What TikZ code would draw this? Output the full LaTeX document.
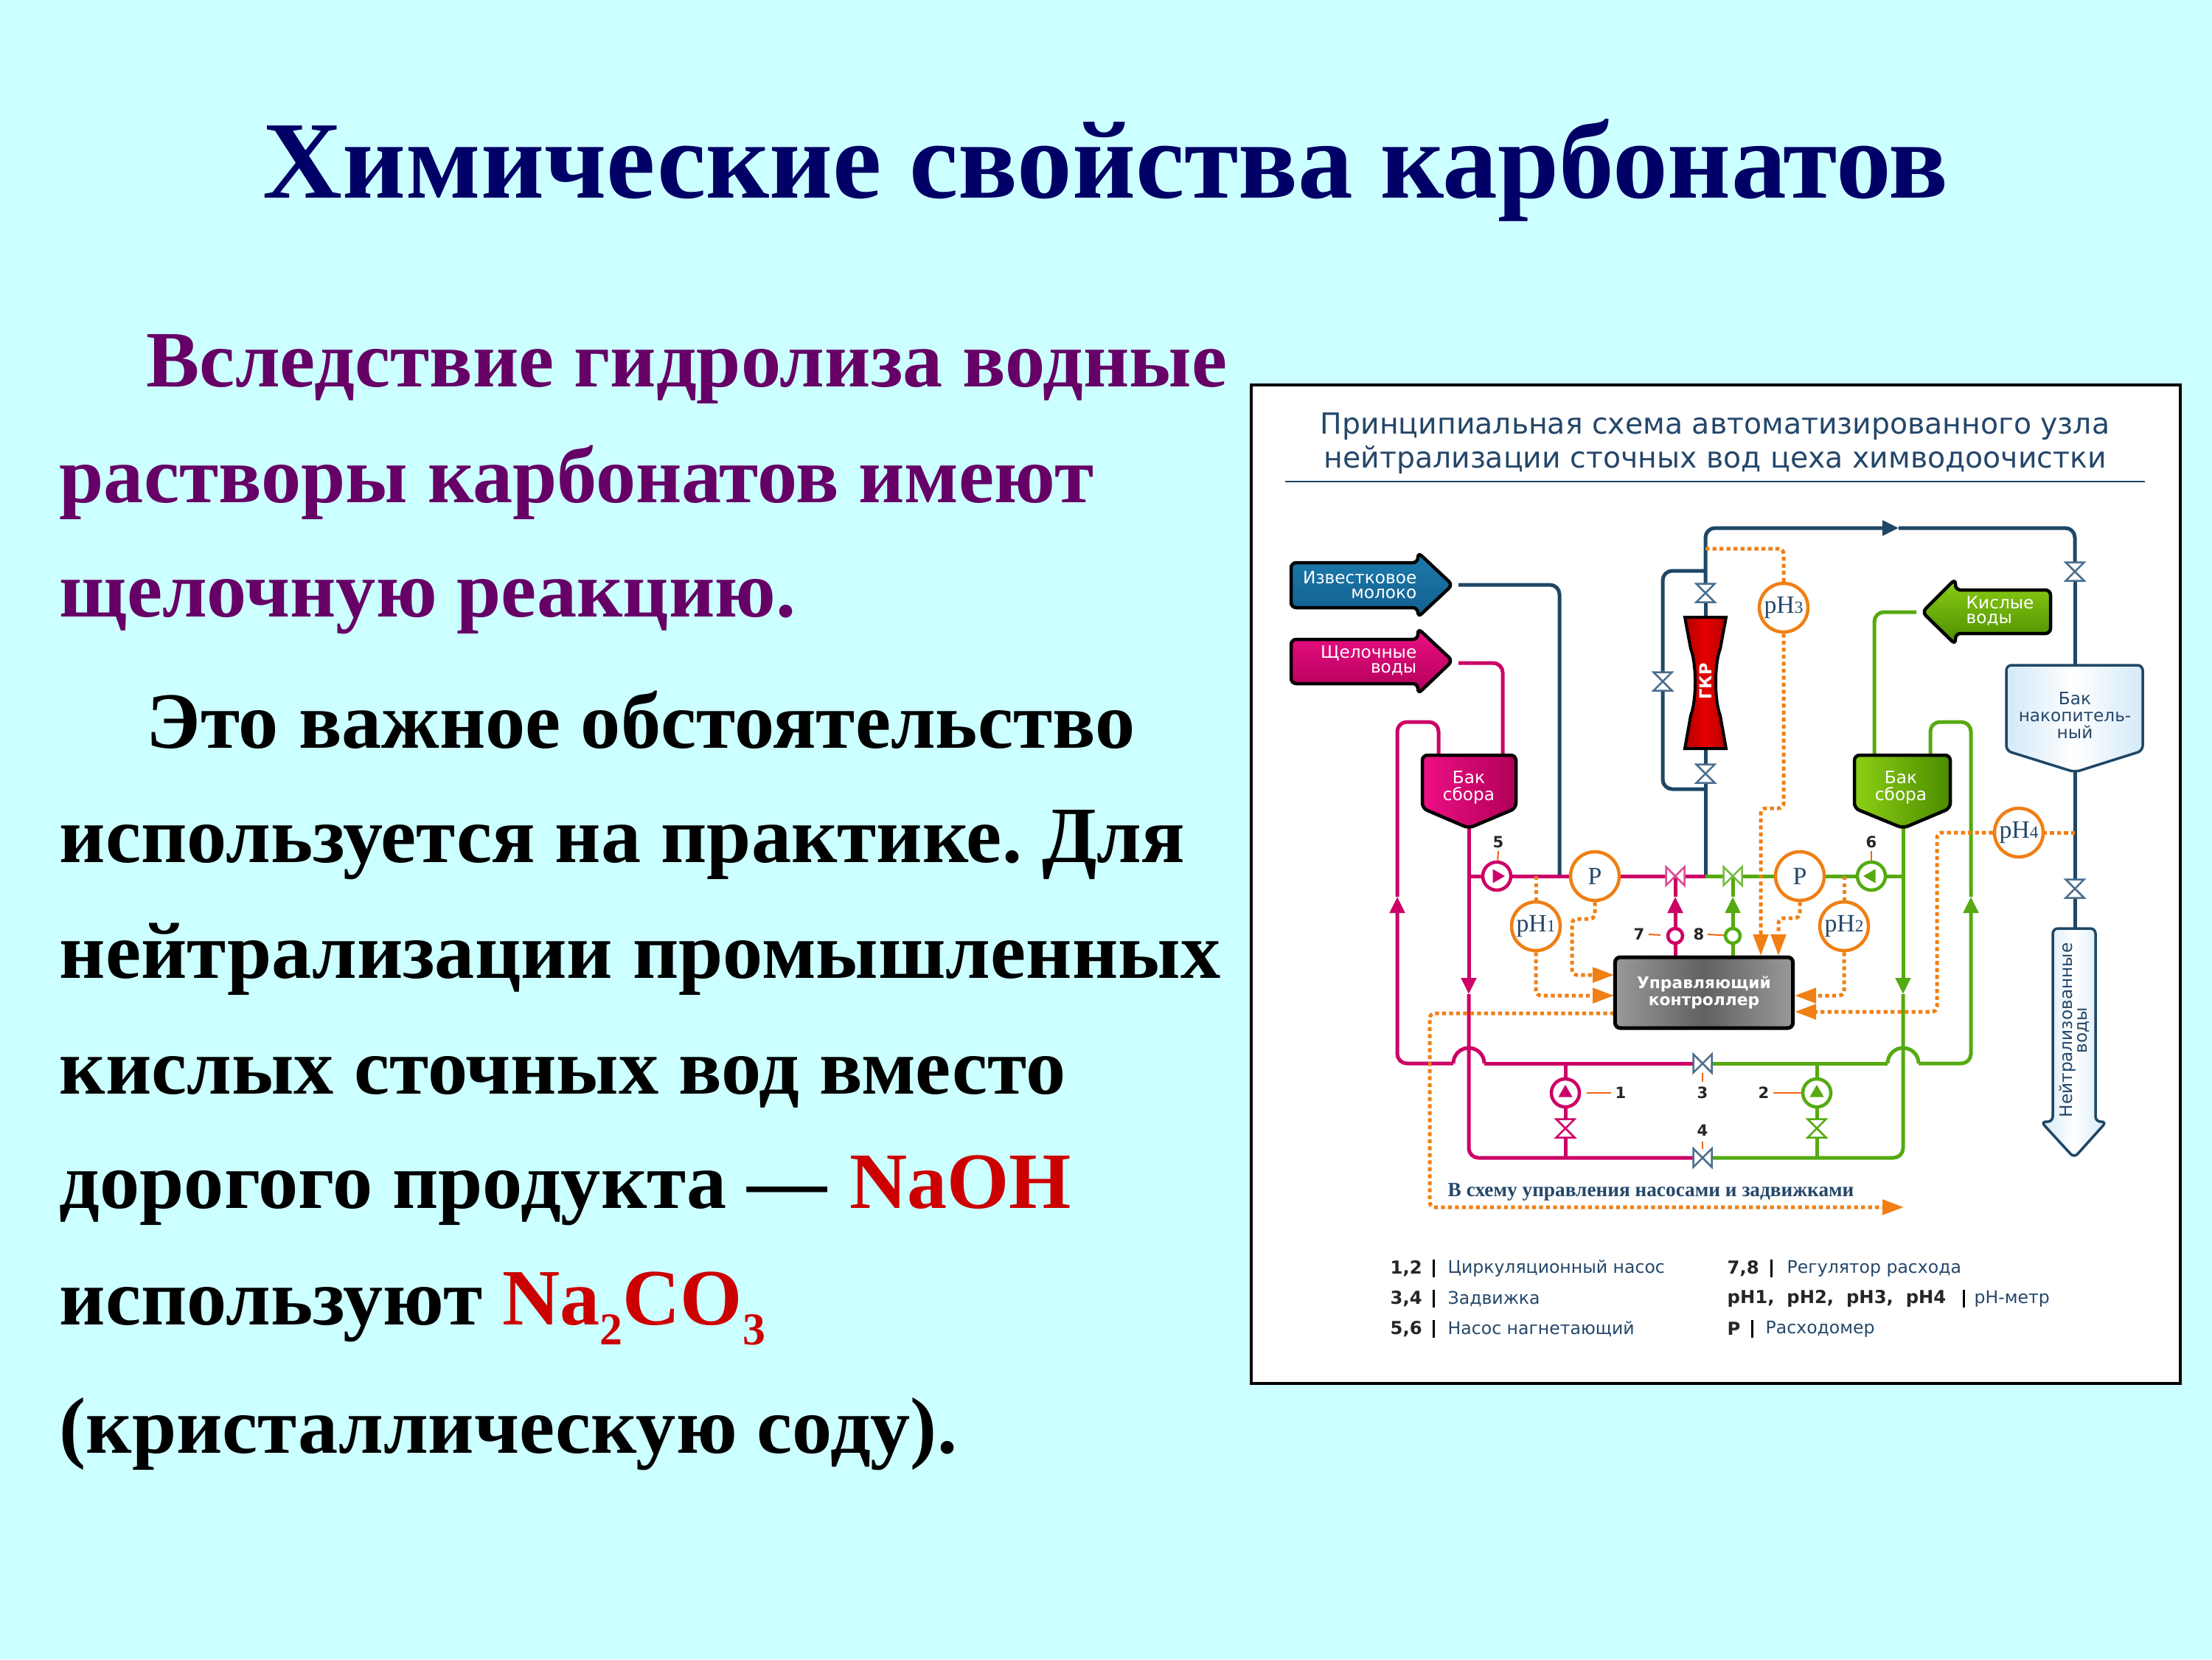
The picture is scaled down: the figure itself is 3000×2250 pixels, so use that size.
\documentclass[tikz,border=0pt]{standalone}
\usepackage{fontspec}
\setmainfont{Liberation Serif}
\newfontfamily\schemefont{DejaVu Sans}
\usetikzlibrary{arrows.meta,backgrounds,shapes.geometric}
\frenchspacing
\definecolor{slide area}{HTML}{CCFFFF}
\definecolor{title ink}{HTML}{000066}
\definecolor{purple ink}{HTML}{660066}
\definecolor{salt ink}{HTML}{CC0000}
\definecolor{scheme ink}{HTML}{24476A}
\definecolor{pipe blue}{HTML}{1F4766}
\definecolor{pipe pink}{HTML}{CC0066}
\definecolor{pipe lime}{HTML}{55AA11}
\definecolor{sensor orange}{HTML}{F07F14}
\definecolor{valve steel}{HTML}{4A6E8E}
\definecolor{milk top}{HTML}{1C7BAE}
\definecolor{milk low}{HTML}{125F8E}
\definecolor{pink light}{HTML}{EE0F85}
\definecolor{pink dark}{HTML}{B00058}
\definecolor{lime light}{HTML}{8CCF14}
\definecolor{lime dark}{HTML}{4B8C00}
\definecolor{pale area}{HTML}{D3E9F7}
\definecolor{red light}{HTML}{E60000}
\definecolor{red dark}{HTML}{B40000}
\tikzset{
    mid tip/.tip={Triangle[length=0.22cm,width=0.2cm]},
    sensor tip/.tip={Triangle[length=0.29cm,width=0.2cm]},
    body line/.style={anchor=base west,inner sep=0pt,font=\fontsize{30.8}{33}\bfseries},
    pipe/.style={line width=0.05cm,rounded corners=0.13cm},
    sensor/.style={line width=0.05cm,draw=sensor orange,dash pattern=on 1.5pt off 1.2pt,rounded corners=0.07cm,-sensor tip},
    sensor plain/.style={sensor,-},
    meter/.style={circle,draw=sensor orange,fill=white,line width=0.045cm,minimum size=0.66cm,inner sep=0pt,text=scheme ink,font=\fontsize{9.6}{10}\selectfont},
    valve box/.style={minimum size=0.25cm,inner sep=0pt,outer sep=0pt},
    valve line/.style={line width=0.025cm,fill=white},
    pump/.style={circle,fill=white,line width=0.045cm,minimum size=0.38cm,inner sep=0pt},
    pump mark/.style={regular polygon,regular polygon sides=3,inner sep=0pt,minimum size=0.22cm},
    regulator/.style={circle,fill=white,line width=0.045cm,minimum size=0.2cm,inner sep=0pt},
    num/.style={inner sep=0pt,font=\schemefont\fontsize{6}{6}\bfseries,text=black!85},
    tick/.style={line width=0.02cm,draw=sensor orange!80!red},
    tag/.style={inner sep=0pt,align=center,font=\schemefont\fontsize{6.6}{5.7}\selectfont},
    tall tag/.style={tag,font=\schemefont\fontsize{6.6}{6.5}\selectfont},
    shape line/.style={draw=black,line width=0.045cm,rounded corners=0.07cm},
    pale line/.style={draw=pipe blue,line width=0.035cm,rounded corners=0.07cm,left color=pale area,right color=pale area,middle color=white},
    legend key/.style={anchor=west,inner sep=0pt,text=black!85,font=\schemefont\fontsize{6.9}{7}\bfseries},
    legend text/.style={anchor=west,inner sep=0pt,text=scheme ink,font=\schemefont\fontsize{6.7}{7}\selectfont},
    legend bar/.style={line width=0.03cm,draw=black}
}
\newcommand{\valveH}[3]{\node[valve box] (#1) at (#2) {};
    \draw[valve line,draw=#3] (#1.north west) -- (#1.south east) -- (#1.north east) -- (#1.south west) -- cycle;}
\newcommand{\valveV}[3]{\node[valve box] (#1) at (#2) {};
    \draw[valve line,draw=#3] (#1.north west) -- (#1.north east) -- (#1.south west) -- (#1.south east) -- cycle;}
\newcommand{\pumpAt}[4]{\node[pump,draw=#3] (#1) at (#2) {};
    \node[pump mark,fill=#3,regular polygon rotate=#4] (#1 mark) at (#2) {};}
\newcommand{\pHtag}[1]{pH{\fontsize{6.6}{7}\selectfont #1}}
\newcommand{\lowIdx}[1]{\raisebox{-7.7pt}{\fontsize{17.6}{18}\selectfont #1}}
\def\tankL{(1929,1024) -- (2056,1024) -- (2056,1096) -- (1992,1123) -- (1929,1096) -- cycle}
\def\tankR{(2515,1024) -- (2645,1024) -- (2645,1096) -- (2581,1123) -- (2515,1096) -- cycle}
\def\tankStore{(2721,902) -- (2906,902) -- (2906,1018) -- (2814,1047) -- (2721,1018) -- cycle}
\def\arrowMilk{(1751,763) -- (1923,763) -- (1923,749) -- (1970,793) -- (1923,837) -- (1923,824) -- (1751,824) -- cycle}
\def\arrowAlkali{(1751,867) -- (1923,867) -- (1923,852) -- (1970,896) -- (1923,941) -- (1923,927) -- (1751,927) -- cycle}
\def\arrowAcid{(2781,800) -- (2652,800) -- (2652,785) -- (2607,830) -- (2652,874) -- (2652,859) -- (2781,859) -- cycle}
\def\arrowOut{(2784,1259) -- (2842,1259) -- (2842,1521) -- (2857,1521) -- (2813,1570) -- (2768,1521) -- (2784,1521) -- cycle}
\def\hourGlass{(2285,837) -- (2341,837) -- (2333,880) .. controls (2325,900) and (2325,950) .. (2333,970) -- (2341,1015) -- (2285,1015) -- (2293,970) .. controls (2301,950) and (2301,900) .. (2293,880) -- cycle}

\begin{document}
\begin{tikzpicture}[x=0.01cm,y=-0.01cm]
    \useasboundingbox (0,0) rectangle (3000,2250);
    \begin{scope}[on background layer]
        \fill[slide area] (0,0) rectangle (3000,2250);
        \draw[fill=white,line width=0.035cm] (1697,522) rectangle (2957,1876);
    \end{scope}

    \node[anchor=base west,inner sep=0pt,text=title ink,font=\fontsize{42.5}{45}\bfseries] (slideTitle) at (356,268) {Химические свойства карбонатов};
    \node[body line,text=purple ink] (lineA) at (198,524) {Вследствие гидролиза водные};
    \node[body line,text=purple ink] (lineB) at (80,681) {растворы карбонатов имеют};
    \node[body line,text=purple ink] (lineC) at (80,836) {щелочную реакцию.};
    \node[body line] (lineD) at (198,1014) {Это важное обстоятельство};
    \node[body line] (lineE) at (80,1169) {используется на практике. Для};
    \node[body line] (lineF) at (80,1326) {нейтрализации промышленных};
    \node[body line] (lineG) at (80,1483) {кислых сточных вод вместо};
    \node[body line] (lineH) at (80,1638) {дорогого продукта —\kern1pt\ {\color{salt ink}NaOH}};
    \node[body line] (lineI) at (80,1796) {используют {\color{salt ink}Na\lowIdx{2}CO\lowIdx{3}}};
    \node[body line] (lineJ) at (80,1970) {(кристаллическую соду).};

    \node[inner sep=0pt,align=center,text=scheme ink,font=\schemefont\fontsize{11.2}{13}\selectfont] (schemeTitle) at (2326,601) {Принципиальная схема автоматизированного узла\\нейтрализации сточных вод цеха химводоочистки};
    \coordinate (ruleL) at (1743,653);
    \coordinate (ruleR) at (2909,653);
    \draw[pipe blue,line width=0.025cm] (ruleL) -- (ruleR);

    \coordinate (milkOut) at (1978,793);
    \coordinate (alkaliOut) at (1978,899);
    \coordinate (acidOut) at (2599,830);
    \coordinate (tankLa) at (1951,1024);
    \coordinate (tankLb) at (2038,1024);
    \coordinate (tankLtip) at (1992,1123);
    \coordinate (tankRa) at (2542,1024);
    \coordinate (tankRb) at (2618,1024);
    \coordinate (tankRtip) at (2581,1123);
    \coordinate (storeIn) at (2814,902);
    \coordinate (storeTip) at (2814,1047);
    \coordinate (outIn) at (2814,1259);
    \coordinate (blueTee) at (2115,1188);
    \coordinate (midTee) at (2313,1188);
    \coordinate (teeL) at (1992,1188);
    \coordinate (teeR) at (2581,1188);
    \coordinate (bypassHigh) at (2313,774);
    \coordinate (bypassLow) at (2313,1070);
    \coordinate (topFlow) at (2575,716);
    \coordinate (downL) at (1992,1348);
    \coordinate (downR) at (2581,1348);
    \coordinate (upL) at (1895,1216);
    \coordinate (upR) at (2673,1216);
    \coordinate (loopL) at (1951,979);
    \coordinate (loopR) at (2618,979);
    \coordinate (jumpLa) at (1971,1442);
    \coordinate (jumpLb) at (2013,1442);
    \coordinate (jumpRa) at (2560,1442);
    \coordinate (jumpRb) at (2602,1442);
    \coordinate (teeA) at (2123,1442);
    \coordinate (teeB) at (2464,1442);
    \coordinate (teeC) at (2123,1570);
    \coordinate (teeD) at (2464,1570);
    \coordinate (tapL) at (2083,1188);
    \coordinate (tapR) at (2501,1188);
    \coordinate (tapTop) at (2313,744);
    \coordinate (tapOut) at (2814,1129);
    \coordinate (jogA) at (2132,1246);
    \coordinate (jogB) at (2412,1245);
    \coordinate (jogC) at (2388,1096);
    \coordinate (jogD) at (2627,1129);
    \coordinate (jogE) at (1939,1374);
    \coordinate (ctrlA) at (2189,1350);
    \coordinate (ctrlB) at (2189,1322);
    \coordinate (ctrlC) at (2412,1296);
    \coordinate (ctrlD) at (2388,1296);
    \coordinate (ctrlE) at (2434,1350);
    \coordinate (ctrlF) at (2434,1372);
    \coordinate (ctrlG) at (2189,1374);
    \coordinate (outEnd) at (2582,1637);
    \coordinate (stemA) at (2272,1296);
    \coordinate (stemB) at (2350,1296);
    \coordinate (stemTipA) at (2272,1216);
    \coordinate (stemTipB) at (2350,1216);

    \shade[shape line,top color=milk top,bottom color=milk low] \arrowMilk;
    \shade[shape line,top color=pink light,bottom color=pink dark] \arrowAlkali;
    \shade[shape line,top color=lime light,bottom color=lime dark] \arrowAcid;
    \shade[shape line,left color=pink light,right color=pink dark] \tankL;
    \shade[shape line,left color=lime light,right color=lime dark] \tankR;
    \shade[pale line] \tankStore;
    \shade[pale line] \arrowOut;
    \shade[draw=black,line width=0.04cm,left color=red dark,right color=red dark,middle color=red light] \hourGlass;

    \node[tag,text=white,anchor=east,align=right] (milkTag) at (1922,793) {Известковое\\молоко};
    \node[tag,text=white,anchor=east,align=right] (alkaliTag) at (1922,896) {Щелочные\\воды};
    \node[tag,text=white,anchor=west,align=left] (acidTag) at (2666,829) {Кислые\\воды};
    \node[tall tag,text=white] (tankLtag) at (1992,1068) {Бак\\сбора};
    \node[tall tag,text=white] (tankRtag) at (2578,1068) {Бак\\сбора};
    \node[tall tag,text=scheme ink] (storeTag) at (2814,970) {Бак\\накопитель-\\ный};
    \node[tag,text=scheme ink,rotate=90] (outTag) at (2813,1397) {Нейтрализованные\\воды};
    \node[inner sep=0pt,rotate=90,text=white,font=\schemefont\fontsize{6.4}{7}\bfseries] (gkrTag) at (2313,924) {ГКР};
    \node[valve box,minimum width=0.56cm,minimum height=1.78cm] (gkr) at (2313,926) {};

    \node[rounded corners=0.07cm,draw=black,line width=0.05cm,left color=black!40,right color=black!40,middle color=black!62,minimum width=2.41cm,minimum height=0.96cm,inner sep=0pt,align=center,text=white,font=\schemefont\fontsize{6.2}{6.7}\bfseries] (controller) at (2311,1346) {Управляющий\\контроллер};

    \node[meter] (meterPL) at (2163,1188) {P};
    \node[meter] (meterPR) at (2441,1188) {P};
    \node[meter] (pHa) at (2083,1256) {\pHtag{1}};
    \node[meter] (pHb) at (2501,1256) {\pHtag{2}};
    \node[meter] (pHc) at (2419,824) {\pHtag{3}};
    \node[meter] (pHd) at (2738,1129) {\pHtag{4}};

    \pumpAt{pumpE}{2030,1188}{pipe pink}{-90}
    \pumpAt{pumpF}{2538,1188}{pipe lime}{90}
    \pumpAt{pumpA}{2123,1482}{pipe pink}{0}
    \pumpAt{pumpB}{2464,1482}{pipe lime}{0}
    \node[regulator,draw=pipe pink] (regA) at (2272,1269) {};
    \node[regulator,draw=pipe lime] (regB) at (2350,1269) {};

    \valveV{valveTop}{2814,775}{valve steel}
    \valveV{valveHigh}{2313,804}{valve steel}
    \valveV{valveLow}{2313,1049}{valve steel}
    \valveV{valveSide}{2255,924}{valve steel}
    \valveV{valveOut}{2814,1205}{valve steel}
    \valveV{valveA}{2123,1530}{pipe pink}
    \valveV{valveB}{2464,1530}{pipe lime}
    \valveH{valveC}{2309,1442}{valve steel}
    \valveH{valveD}{2309,1570}{valve steel}
    \valveH{valveL}{2272,1188}{pipe pink!70}
    \valveH{valveR}{2350,1188}{pipe lime!80}

    \begin{scope}[on background layer]
        \draw[pipe,pipe blue] (milkOut) -| (blueTee);
        \draw[pipe,pipe blue] (midTee) -- (valveLow);
        \draw[pipe,pipe blue] (valveLow) -- (gkr);
        \draw[pipe,pipe blue] (gkr) -- (valveHigh);
        \draw[pipe,pipe blue,-mid tip] (valveHigh) |- (topFlow);
        \draw[pipe,pipe blue] (topFlow) -| (valveTop);
        \draw[pipe,pipe blue] (valveTop) -- (storeIn);
        \draw[pipe,pipe blue] (bypassHigh) -| (valveSide);
        \draw[pipe,pipe blue] (valveSide) |- (bypassLow);
        \draw[pipe,pipe blue] (storeTip) -- (valveOut);
        \draw[pipe,pipe blue] (valveOut) -- (outIn);

        \draw[pipe,pipe pink] (alkaliOut) -| (tankLb);
        \draw[pipe,pipe pink,-mid tip] (tankLtip) -- (downL);
        \draw[pipe,pipe pink] (downL) |- (valveD);
        \draw[pipe,pipe pink] (teeL) -- (pumpE);
        \draw[pipe,pipe pink] (pumpE) -- (meterPL);
        \draw[pipe,pipe pink] (meterPL) -- (valveL);
        \draw[pipe,pipe pink] (valveL) -- (midTee);
        \draw[pipe,pipe pink,-mid tip] (jumpLa) -| (upL);
        \draw[pipe,pipe pink] (upL) |- (loopL) -- (tankLa);
        \draw[pipe,pipe pink] (jumpLa) arc[start angle=180,end angle=0,radius=0.21cm];
        \draw[pipe,pipe pink] (jumpLb) -- (valveC);
        \draw[pipe,pipe pink] (teeA) -- (pumpA);
        \draw[pipe,pipe pink] (pumpA) -- (valveA);
        \draw[pipe,pipe pink] (valveA) -- (teeC);
        \draw[pipe,pipe pink] (regA) -- (stemA);
        \draw[pipe,pipe pink,-mid tip] (regA) -- (stemTipA);
        \draw[pipe,pipe pink] (stemTipA) -- (valveL.center);

        \draw[pipe,pipe lime] (acidOut) -| (tankRa);
        \draw[pipe,pipe lime,-mid tip] (tankRtip) -- (downR);
        \draw[pipe,pipe lime] (downR) |- (valveD);
        \draw[pipe,pipe lime] (teeR) -- (pumpF);
        \draw[pipe,pipe lime] (pumpF) -- (meterPR);
        \draw[pipe,pipe lime] (meterPR) -- (valveR);
        \draw[pipe,pipe lime] (valveR) -- (midTee);
        \draw[pipe,pipe lime,-mid tip] (jumpRb) -| (upR);
        \draw[pipe,pipe lime] (upR) |- (loopR) -- (tankRb);
        \draw[pipe,pipe lime] (jumpRa) arc[start angle=180,end angle=0,radius=0.21cm];
        \draw[pipe,pipe lime] (valveC) -- (jumpRa);
        \draw[pipe,pipe lime] (teeB) -- (pumpB);
        \draw[pipe,pipe lime] (pumpB) -- (valveB);
        \draw[pipe,pipe lime] (valveB) -- (teeD);
        \draw[pipe,pipe lime] (regB) -- (stemB);
        \draw[pipe,pipe lime,-mid tip] (regB) -- (stemTipB);
        \draw[pipe,pipe lime] (stemTipB) -- (valveR.center);

        \draw[sensor plain] (tapL) -- (pHa);
        \draw[sensor] (pHa) |- (ctrlA);
        \draw[sensor] (meterPL) |- (jogA) |- (ctrlB);
        \draw[sensor plain] (tapR) -- (pHb);
        \draw[sensor] (pHb) |- (ctrlE);
        \draw[sensor] (meterPR) |- (jogB) -- (ctrlC);
        \draw[sensor plain] (tapTop) -| (pHc);
        \draw[sensor] (pHc) |- (jogC) -- (ctrlD);
        \draw[sensor plain] (tapOut) -- (pHd);
        \draw[sensor] (pHd) -- (jogD) |- (ctrlF);
        \draw[sensor] (ctrlG) -- (jogE) |- (outEnd);
    \end{scope}

    \node[num] (numA) at (2198,1482) {1};
    \node[num] (numB) at (2392,1482) {2};
    \node[num] (numC) at (2309,1482) {3};
    \node[num] (numD) at (2309,1533) {4};
    \node[num] (numE) at (2032,1142) {5};
    \node[num] (numF) at (2538,1142) {6};
    \node[num] (numG) at (2223,1267) {7};
    \node[num] (numH) at (2304,1267) {8};
    \draw[tick,shorten >=0.08cm] (numA) ++(-13,0) -- (pumpA);
    \draw[tick] (numB) ++(13,0) -- (pumpB);
    \draw[tick] (numC) ++(0,-15) -- (valveC);
    \draw[tick] (numD) ++(0,15) -- (valveD);
    \draw[tick] (numE) ++(0,12) -- (pumpE);
    \draw[tick] (numF) ++(0,12) -- (pumpF);
    \draw[tick,shorten >=0.08cm] (numG) ++(13,0) -- (regA);
    \draw[tick] (numH) ++(12,0) -- (regB);

    \node[anchor=west,inner sep=0pt,text=scheme ink,font=\fontsize{7.76}{8}\bfseries] (outNote) at (1963,1616) {В схему управления насосами и задвижками};

    \node[legend key] (keyA) at (1885,1720) {1,2};
    \node[legend key] (keyB) at (1885,1761) {3,4};
    \node[legend key] (keyC) at (1885,1802) {5,6};
    \node[legend key] (keyD) at (2342,1720) {7,8};
    \node[legend key] (keyE) at (2342,1761) {pH1,\ \ pH2,\ \ pH3,\ \ pH4};
    \node[legend key] (keyF) at (2342,1802) {P};
    \node[legend text] (textA) at (1963,1720) {Циркуляционный насос};
    \node[legend text] (textB) at (1963,1761) {Задвижка};
    \node[legend text] (textC) at (1963,1802) {Насос нагнетающий};
    \node[legend text] (textD) at (2423,1720) {Регулятор расхода};
    \node[legend text] (textE) at (2677,1761) {pH-метр};
    \node[legend text] (textF) at (2394,1802) {Расходомер};
    \draw[legend bar] (1944,1708) -- (1944,1732);
    \draw[legend bar] (1944,1749) -- (1944,1773);
    \draw[legend bar] (1944,1790) -- (1944,1814);
    \draw[legend bar] (2402,1708) -- (2402,1732);
    \draw[legend bar] (2663,1749) -- (2663,1773);
    \draw[legend bar] (2376,1790) -- (2376,1814);
\end{tikzpicture}
\end{document}
